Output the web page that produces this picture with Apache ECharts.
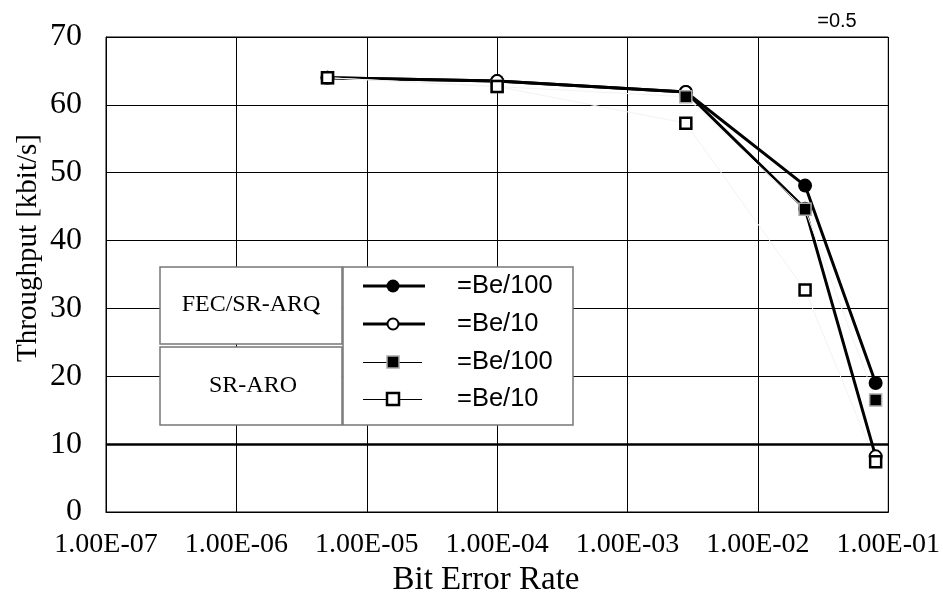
<!DOCTYPE html>
<html>
<head>
<meta charset="utf-8">
<title>Throughput vs Bit Error Rate</title>
<script src="https://cdn.jsdelivr.net/npm/echarts@6/dist/echarts.min.js"></script>
<style>
  html, body { margin: 0; padding: 0; background: #fff; }
  #chart { width: 943px; height: 595px; }
</style>
</head>
<body>
<div id="chart"></div>
<script>
// Bit error rates where throughput was measured
const ber = [5e-6, 1e-4, 2.8e-3, 2.3e-2, 8e-2];

// Throughput [kbit/s] per scheme
const fecBe100 = [64.0, 63.5, 61.9, 48.1, 19.0];
const fecBe10  = [64.0, 63.5, 61.9, 44.7, 8.2];
const srBe100  = [64.0, 62.7, 61.2, 44.6, 16.5];
const srBe10   = [64.0, 62.7, 57.3, 32.7, 7.4];

// Axis tick labels
const xTickLabels = ['1.00E-07', '1.00E-06', '1.00E-05', '1.00E-04', '1.00E-03', '1.00E-02', '1.00E-01'];
const yTicks = [0, 10, 20, 30, 40, 50, 60, 70];

// Legend texts
const groupLabels = ['FEC/SR-ARQ', 'SR-ARO'];
const seriesLabels = ['=Be/100', '=Be/10', '=Be/100', '=Be/10'];
const cornerNote = '=0.5';

const pairs = (ys) => ber.map((x, i) => [x, ys[i]]);

const SERIF = '"Liberation Serif", "DejaVu Serif", serif';
const SANS = '"Liberation Sans", Arial, sans-serif';

const chart = echarts.init(document.getElementById('chart'), null, { renderer: 'canvas' });

// Legend block: two group boxes on the left, keys and labels on the right
const legendRowsY = [286, 324, 362, 399];
const legendGraphics = [
  { type: 'rect', shape: { x: 343, y: 267, width: 230, height: 158 },
    style: { fill: '#fff', stroke: '#777', lineWidth: 1.5 }, z: 100 },
  { type: 'rect', shape: { x: 160, y: 267, width: 182, height: 77 },
    style: { fill: '#fff', stroke: '#777', lineWidth: 1.5 }, z: 100 },
  { type: 'rect', shape: { x: 160, y: 347, width: 182, height: 78 },
    style: { fill: '#fff', stroke: '#777', lineWidth: 1.5 }, z: 100 },
  { type: 'text', x: 251, y: 305, z: 101,
    style: { text: groupLabels[0], font: '24px ' + SERIF, fill: '#000', align: 'center', verticalAlign: 'middle' } },
  { type: 'text', x: 253, y: 386, z: 101,
    style: { text: groupLabels[1], font: '24px ' + SERIF, fill: '#000', align: 'center', verticalAlign: 'middle' } }
];
// key lines (thin ones sit on a pixel centre so they stay crisp)
[[3, 425, 0], [3, 425, 0], [1, 422, 0.5], [1, 422, 0.5]].forEach(([w, x2, off], i) => {
  legendGraphics.push({ type: 'line', z: 101,
    shape: { x1: 363, y1: legendRowsY[i] + off, x2: x2, y2: legendRowsY[i] + off },
    style: { stroke: '#000', lineWidth: w } });
});
// key markers
legendGraphics.push(
  { type: 'circle', z: 102, shape: { cx: 393, cy: legendRowsY[0], r: 6.5 }, style: { fill: '#000' } },
  { type: 'circle', z: 102, shape: { cx: 393, cy: legendRowsY[1], r: 5.5 }, style: { fill: '#fff', stroke: '#000', lineWidth: 2 } },
  { type: 'rect', z: 102, shape: { x: 387, y: legendRowsY[2] - 6, width: 12, height: 12 }, style: { fill: '#000', stroke: '#aaa', lineWidth: 1.5 } },
  { type: 'rect', z: 102, shape: { x: 387, y: legendRowsY[3] - 6, width: 12, height: 12 }, style: { fill: '#fff', stroke: '#000', lineWidth: 2.5 } }
);
seriesLabels.forEach((t, i) => {
  legendGraphics.push({ type: 'text', x: 457, y: legendRowsY[i], z: 101,
    style: { text: t, font: '25.5px ' + SANS, fill: '#000', align: 'left', verticalAlign: 'middle' } });
});

const option = {
  backgroundColor: '#fff',
  animation: false,
  grid: { left: 106, right: 53, top: 37, bottom: 83, show: true, borderColor: '#000', borderWidth: 1 },
  xAxis: {
    type: 'log',
    logBase: 10,
    min: 1e-7,
    max: 1e-1,
    interval: 1,
    axisLine: { show: true, lineStyle: { color: '#000', width: 1 } },
    axisTick: { show: false },
    splitLine: { show: true, lineStyle: { color: '#000', width: 1 } },
    axisLabel: {
      color: '#000', fontFamily: SERIF, fontSize: 28, margin: 19,
      hideOverlap: false, showMinLabel: true, showMaxLabel: true,
      formatter: (v) => xTickLabels[Math.round(Math.log10(v)) + 7]
    }
  },
  yAxis: {
    type: 'value',
    min: yTicks[0],
    max: yTicks[yTicks.length - 1],
    interval: 10,
    axisLine: { show: true, lineStyle: { color: '#000', width: 1 } },
    axisTick: { show: false },
    splitLine: { show: true, lineStyle: { color: '#000', width: 1 } },
    axisLabel: { color: '#000', fontFamily: SERIF, fontSize: 32, margin: 24 }
  },
  graphic: [
    { type: 'text', x: 486, y: 580,
      style: { text: 'Bit Error Rate', font: '33px ' + SERIF, fill: '#000', align: 'center', verticalAlign: 'middle' } },
    { type: 'text', x: 28, y: 248, rotation: Math.PI / 2,
      style: { text: 'Throughput [kbit/s]', font: '29px ' + SERIF, fill: '#000', align: 'center', verticalAlign: 'middle' } },
    { type: 'text', x: 837, y: 21,
      style: { text: cornerNote, font: '20px ' + SANS, fill: '#000', align: 'center', verticalAlign: 'middle' } }
  ].concat(legendGraphics),
  series: [
    {
      name: 'FEC/SR-ARQ Be/100',
      type: 'line',
      data: pairs(fecBe100),
      lineStyle: { color: '#000', width: 3 },
      symbol: 'circle', symbolSize: 14,
      itemStyle: { color: '#000', borderWidth: 0 },
      markLine: {
        silent: true, symbol: 'none', label: { show: false },
        lineStyle: { color: '#000', width: 2.5, type: 'solid' },
        data: [{ yAxis: 10 }]
      }
    },
    {
      name: 'FEC/SR-ARQ Be/10',
      type: 'line',
      data: pairs(fecBe10),
      lineStyle: { color: '#000', width: 3 },
      symbol: 'circle', symbolSize: 12,
      itemStyle: { color: '#fff', borderColor: '#000', borderWidth: 2 }
    },
    {
      name: 'SR-ARQ Be/100',
      type: 'line',
      data: pairs(srBe100),
      lineStyle: { color: '#f3f3f3', width: 1 },
      symbol: 'rect', symbolSize: 12,
      itemStyle: { color: '#000', borderColor: '#aaa', borderWidth: 1.5 }
    },
    {
      name: 'SR-ARQ Be/10',
      type: 'line',
      data: pairs(srBe10),
      lineStyle: { color: '#f3f3f3', width: 1 },
      symbol: 'rect', symbolSize: 11,
      itemStyle: { color: '#fff', borderColor: '#000', borderWidth: 2.5 }
    }
  ]
};

chart.setOption(option);
</script>
</body>
</html>
